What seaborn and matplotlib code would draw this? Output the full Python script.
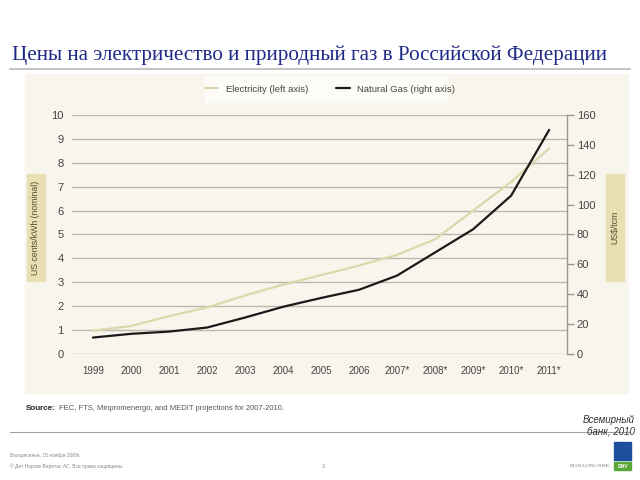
import numpy as np
import pandas as pd
import seaborn as sns
import matplotlib
matplotlib.use("Agg")
from matplotlib import pyplot as plt
from matplotlib.patches import Rectangle
from matplotlib.lines import Line2D

# values
years       = ["1999", "2000", "2001", "2002", "2003", "2004", "2005",
               "2006", "2007*", "2008*", "2009*", "2010*", "2011*"]
electricity = [0.97, 1.17, 1.58, 1.95, 2.45, 2.9, 3.3, 3.7, 4.15, 4.8, 6.0, 7.2, 8.6]
natural_gas = [11, 13.5, 15, 17.7, 24.4, 31.6, 37.5, 43, 52.5, 68, 83.5, 106, 150]
left_ticks  = list(range(0, 11))
right_ticks = list(range(0, 161, 20))

df = pd.DataFrame({"idx": np.arange(len(years)),
                   "Electricity": electricity,
                   "Gas": natural_gas})

sns.set_style("white")
plt.rcParams['font.family'] = ['Liberation Sans', 'DejaVu Sans']

W, H = 640, 480
fig = plt.figure(figsize=(6.4, 4.8), dpi=100)

def fx(px):
    return px / W

def fy(py):
    return 1 - py / H

# slide title and rules
fig.text(fx(12), fy(55), "Цены на электричество и природный газ в Российской Федерации",
         family=["Liberation Serif", "DejaVu Serif"], fontsize=15.2, color="#1f2a86",
         va="center", ha="left")
fig.add_artist(Line2D([fx(10), fx(630)], [fy(69), fy(69)], color="#c4c4c4", lw=1.5))
fig.add_artist(Line2D([fx(10), fx(630)], [fy(432), fy(432)], color="#a0a0a0", lw=0.8))

# beige chart panel and legend strip
fig.add_artist(Rectangle((fx(25), fy(393)), fx(603), (393 - 74) / H,
                         transform=fig.transFigure, color="#f8f5ec", zorder=0))
fig.add_artist(Rectangle((fx(205), fy(102)), fx(242), 25 / H,
                         transform=fig.transFigure, color="#fdfcf9", zorder=0))

ax = fig.add_axes([fx(72), fy(354), fx(495), (354 - 115) / H])
ax.patch.set_alpha(0)
ax2 = ax.twinx()

sns.lineplot(data=df, x="idx", y="Electricity", ax=ax, color="#dcd8ac", lw=1.6)
sns.lineplot(data=df, x="idx", y="Gas", ax=ax2, color="#1a1a1a", lw=1.6)

ax.set_xlim(-0.55, 12.47)
ax.set_ylim(0, 10)
ax2.set_ylim(0, 160)
ax.set_yticks(left_ticks)
ax2.set_yticks(right_ticks)
ax.set_xticks(df["idx"])
ax.set_xticklabels(years)
ax.grid(axis="y", color="#bcb8ae", lw=1)
ax.set_axisbelow(True)
ax.set_xlabel("")
ax.set_ylabel("")
ax2.set_ylabel("")

for a in (ax, ax2):
    for s in a.spines.values():
        s.set_visible(False)
ax2.spines["right"].set_visible(True)
ax2.spines["right"].set_color("#9a968c")
ax2.spines["right"].set_linewidth(1)

ax.tick_params(axis="y", length=0, pad=6, labelsize=8, labelcolor="#444444")
ax.tick_params(axis="x", length=0, pad=9, labelsize=7, labelcolor="#444444")
ax2.tick_params(axis="y", length=5, width=1, color="#9a968c", pad=2,
                labelsize=8, labelcolor="#444444")

# axis label boxes
for cx, label in [(35.5, "US cents/kWh (nominal)"), (615, "US$/tcm")]:
    fig.add_artist(Rectangle((fx(cx - 9), fy(281)), fx(18), 107 / H,
                             transform=fig.transFigure, color="#e8dfb5"))
    fig.text(fx(cx), fy(227.5), label, rotation=90, fontsize=6.3,
             color="#5a5030", ha="center", va="center")

# legend
handles = [Line2D([], [], color="#dcd8ac", lw=1.6), Line2D([], [], color="#1a1a1a", lw=1.6)]
fig.legend(handles, ["Electricity (left axis)", "Natural Gas (right axis)"],
           loc="center", bbox_to_anchor=(fx(330), fy(89)), ncol=2, frameon=False,
           fontsize=6.8, handlelength=1.4, columnspacing=3.0, labelcolor="#444444")

# source
src = fig.text(fx(26), fy(408), "Source:", fontsize=5.8, weight="bold",
               color="#555555", va="center")
fig.add_artist(src)
ax.annotate("FEC, FTS, Minpromenergo, and MEDIT projections for 2007-2010.",
            xy=(1, 0.5), xycoords=src, xytext=(2.5, 0), textcoords="offset points",
            fontsize=5.5, color="#555555", va="center", annotation_clip=False)

# footer
fig.text(fx(635), fy(420), "Всемирный", style="italic", fontsize=7,
         color="#333333", ha="right", va="center")
fig.text(fx(635), fy(431), "банк, 2010", style="italic", fontsize=7,
         color="#333333", ha="right", va="center")
fig.text(fx(10), fy(455), "Воскресенье, 15 ноября 2009г.",
         fontsize=3.5, color="#888888", va="center")
fig.text(fx(10), fy(466), "© Дет Норске Веритас АС. Все права защищены.",
         fontsize=3.5, color="#888888", va="center")
fig.text(fx(322), fy(466), "3", fontsize=4, color="#888888", va="center")
fig.add_artist(Rectangle((fx(614), fy(460)), fx(17), 18 / H,
                         transform=fig.transFigure, color="#1d4f9c"))
fig.add_artist(Rectangle((fx(614), fy(470)), fx(17), 8 / H,
                         transform=fig.transFigure, color="#5aa83a"))
fig.text(fx(622.5), fy(466), "DNV", fontsize=3.5, color="white", weight="bold",
         ha="center", va="center")
fig.text(fx(609), fy(466), "MANAGING RISK", family=["Liberation Serif", "DejaVu Serif"],
         fontsize=3.5, color="#777777", ha="right", va="center")

fig.savefig("out.png", dpi=100)
